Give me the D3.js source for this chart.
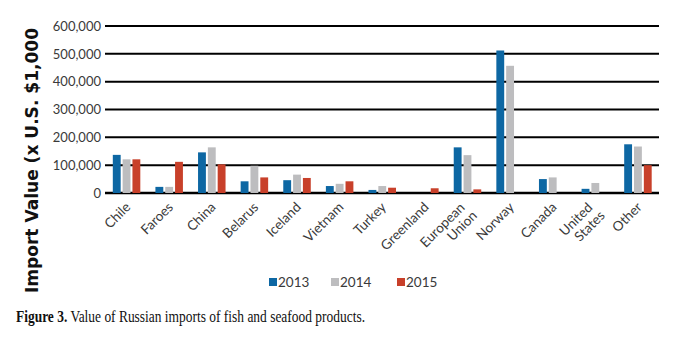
<!DOCTYPE html>
<html><head><meta charset="utf-8">
<script src="https://cdn.jsdelivr.net/npm/d3@7"></script>
<style>
html,body{margin:0;padding:0;background:#fff;}
svg{display:block;}
</style></head>
<body><div id="chart"></div>
<script>
const categories = ["Chile","Faroes","China","Belarus","Iceland","Vietnam","Turkey","Greenland","European Union","Norway","Canada","United States","Other"];
const years = ["2013","2014","2015"];
const values2013 = [137000,22000,146000,42000,46000,25000,11000,0,164000,512000,50000,15000,175000];
const values2014 = [121000,22000,164000,98000,66000,33000,25000,0,136000,457000,56000,36000,167000];
const values2015 = [121000,112000,103000,56000,54000,42000,19000,17000,13000,0,0,0,100000];
const yTicks = [0,100000,200000,300000,400000,500000,600000];
const colors = ["#0d67a3","#bdbdbf","#c8402a"];
const yTitle = "Import Value (x U.S. $1,000";
const captionBold = "Figure 3.";
const captionText = " Value of Russian imports of fish and seafood products.";

const W=675,H=337;
const svg=d3.select("#chart").append("svg").attr("width",W).attr("height",H);
const x=d3.scaleBand().domain(categories).range([105,659]);
const y=d3.scaleLinear().domain([0,600000]).range([193,26]);
const series=[values2013,values2014,values2015];
const xs=d3.scaleBand().domain(years).range([-13.5,14]).paddingInner(0.2);

// grid lines
svg.append("g").selectAll("line").data(yTicks).join("line")
  .attr("x1",105).attr("x2",659)
  .attr("y1",d=>y(d)).attr("y2",d=>y(d))
  .attr("stroke","#000").attr("stroke-width",d=>d===0?2.5:2);

// y tick labels via axis
const yAxis=svg.append("g").attr("transform","translate(103,0)")
  .call(d3.axisLeft(y).tickValues(yTicks).tickSize(0).tickPadding(2).tickFormat(d3.format(",")));
yAxis.select(".domain").remove();
yAxis.selectAll("text").attr("font-family","Lato").attr("font-size",13).attr("fill","#3a3a3a");

// bars
series.forEach((vals,i)=>{
  svg.append("g").selectAll("rect").data(categories).join("rect")
    .attr("x",(c)=>x(c)+x.bandwidth()/2+xs(years[i]))
    .attr("width",xs.bandwidth())
    .attr("y",(c,j)=>y(vals[j]))
    .attr("height",(c,j)=>y(0)-y(vals[j]))
    .attr("fill",colors[i]);
});

// x labels
const xl=svg.append("g").selectAll("text").data(categories).join("text")
  .attr("transform",c=>`translate(${x(c)+x.bandwidth()/2+5},${208}) rotate(-45)`)
  .attr("text-anchor","end").attr("font-family","Lato").attr("font-size",13.5).attr("fill","#3a3a3a");
xl.each(function(c){
  const parts=c.split(" ");
  const t=d3.select(this);
  if(parts.length===1){t.append("tspan").attr("x",0).attr("y",0).text(c);}
  else{
    t.append("tspan").attr("x",-5).attr("y",-4.5).text(parts[0]);
    t.append("tspan").attr("x",-2).attr("y",10).text(parts[1]);
  }
});

// y title
svg.append("text").attr("transform","translate(38,293) rotate(-90)")
  .attr("font-family","DejaVu Sans").attr("font-weight","bold").attr("font-size",17)
  .attr("textLength",265).attr("lengthAdjust","spacingAndGlyphs")
  .attr("fill","#111").text(yTitle);

// legend
const lx=[269,331,397];
years.forEach((yr,i)=>{
  svg.append("rect").attr("x",lx[i]).attr("y",278).attr("width",8).attr("height",8).attr("fill",colors[i]);
  svg.append("text").attr("x",lx[i]+9).attr("y",287).attr("font-family","Lato")
    .attr("font-size",13.5).attr("fill","#3a3a3a").text(yr);
});

// caption (single text, horizontally condensed)
const cap=svg.append("text").attr("transform","translate(16,322) scale(0.815,1)")
  .attr("font-family","Liberation Serif").attr("font-size",16.5).attr("fill","#111");
cap.append("tspan").attr("font-weight","bold").text(captionBold);
cap.append("tspan").text(captionText);
</script></body></html>
